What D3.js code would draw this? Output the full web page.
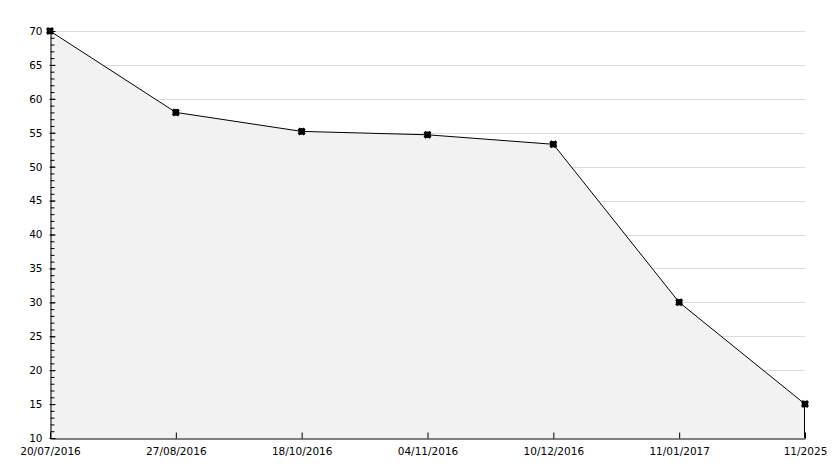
<!DOCTYPE html>
<html>
<head>
<meta charset="utf-8">
<script src="https://cdn.jsdelivr.net/npm/d3@7"></script>
<style>
  body { margin: 0; background: #fff; }
  svg text { font-family: "DejaVu Sans", sans-serif; font-size: 10.5px; fill: #000; }
</style>
</head>
<body>
<div id="chart"></div>
<script>
// data
var dates = ["20/07/2016", "27/08/2016", "18/10/2016", "04/11/2016", "10/12/2016", "11/01/2017", "11/2025"];
var values = [70, 58, 55.2, 54.7, 53.3, 30, 15];
var yTicks = [10, 15, 20, 25, 30, 35, 40, 45, 50, 55, 60, 65, 70];

var width = 834, height = 468;
var plotLeft = 50, plotRight = 805, plotTop = 31, plotBottom = 438;

var svg = d3.select("#chart").append("svg")
  .attr("width", width)
  .attr("height", height);

var x = d3.scalePoint().domain(dates).range([plotLeft, plotRight]);
var y = d3.scaleLinear().domain([10, 70]).range([plotBottom, plotTop]);

var pts = dates.map(function(d, i) { return { date: d, value: values[i] }; });

// grid
svg.append("g").selectAll("line")
  .data(yTicks.filter(function(t) { return t > 10; }))
  .enter().append("line")
  .attr("x1", plotLeft).attr("x2", plotRight)
  .attr("y1", function(d) { return Math.round(y(d)) + 0.5; })
  .attr("y2", function(d) { return Math.round(y(d)) + 0.5; })
  .style("stroke", "#dcdcdc");

// area
var area = d3.area()
  .x(function(d) { return x(d.date); })
  .y0(y(10))
  .y1(function(d) { return y(d.value); });

svg.append("path")
  .datum(pts)
  .attr("d", area)
  .style("fill", "#f2f2f2")
  .style("stroke", "none");

// right edge of area
svg.append("line")
  .attr("x1", x(dates[dates.length - 1]) - 0.5).attr("x2", x(dates[dates.length - 1]) - 0.5)
  .attr("y1", y(values[values.length - 1])).attr("y2", y(10))
  .style("stroke", "#000");

var line = d3.line()
  .x(function(d) { return x(d.date); })
  .y(function(d) { return y(d.value); });

svg.append("path")
  .datum(pts)
  .attr("d", line)
  .style("fill", "none")
  .style("stroke", "#000")
  .style("stroke-width", 1);

// y axis minor ticks
var minor = d3.range(10, 71, 1);
var yMinor = d3.axisRight(y).tickValues(minor).tickSize(4).tickFormat("");
svg.append("g")
  .attr("transform", "translate(" + (plotLeft + 0.5) + ",0)")
  .call(yMinor)
  .call(function(g) { g.select(".domain").remove(); });

// y axis major
var yAxis = d3.axisLeft(y).tickValues(yTicks).tickSizeInner(-5).tickSizeOuter(0).tickPadding(8);
svg.append("g")
  .attr("class", "y axis")
  .attr("transform", "translate(" + (plotLeft + 0.5) + ",0)")
  .call(yAxis)
  .call(function(g) {
    g.selectAll(".tick line").attr("x1", -1);
  });

// x axis
var xAxis = d3.axisBottom(x).tickSizeInner(-6).tickSizeOuter(0).tickPadding(9);
svg.append("g")
  .attr("class", "x axis")
  .attr("transform", "translate(0," + (plotBottom + 0.5) + ")")
  .call(xAxis);

svg.selectAll(".axis .domain").style("stroke", "#000");
svg.selectAll(".axis text").style("font-family", "DejaVu Sans, sans-serif").style("font-size", "10.5px");

// markers
svg.append("g").selectAll("path")
  .data(pts)
  .enter().append("path")
  .attr("d", d3.symbol().type(d3.symbolCircle).size(34))
  .attr("transform", function(d) { return "translate(" + x(d.date) + "," + y(d.value) + ")"; })
  .style("fill", "#000");
svg.append("g").selectAll("path")
  .data(pts)
  .enter().append("path")
  .attr("d", d3.symbol().type(d3.symbolCross).size(40))
  .attr("transform", function(d) { return "translate(" + x(d.date) + "," + y(d.value) + ") rotate(45)"; })
  .style("fill", "#000");
</script>
</body>
</html>
